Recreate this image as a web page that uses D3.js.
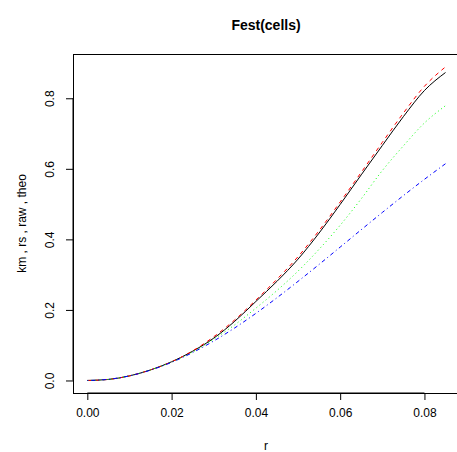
<!DOCTYPE html>
<html>
<head>
<meta charset="utf-8">
<script src="https://cdn.jsdelivr.net/npm/d3@7"></script>
<style>
  html, body { margin: 0; padding: 0; background: #fff; }
  svg { display: block; font-family: "Liberation Sans", Arial, Helvetica, sans-serif; }
</style>
</head>
<body>
<svg id="chart" width="457" height="452"></svg>
<script>
// ---- data ----
const rValues  = [0, 0.005, 0.010, 0.015, 0.020, 0.025, 0.030, 0.035, 0.040, 0.045, 0.050, 0.055, 0.060, 0.065, 0.070, 0.075, 0.080, 0.085];
const kmValues = [0, 0.003, 0.013, 0.030, 0.053, 0.083, 0.120, 0.168, 0.224, 0.281, 0.344, 0.418, 0.499, 0.583, 0.666, 0.748, 0.822, 0.873];
const rsValues = [0, 0.003, 0.013, 0.030, 0.053, 0.084, 0.124, 0.172, 0.228, 0.287, 0.351, 0.425, 0.506, 0.590, 0.675, 0.758, 0.834, 0.889];
const rawValues = [0, 0.003, 0.013, 0.030, 0.052, 0.081, 0.117, 0.158, 0.205, 0.255, 0.310, 0.372, 0.440, 0.515, 0.595, 0.665, 0.730, 0.779];
const theoValues = [0, 0.0033, 0.0131, 0.0293, 0.0514, 0.0792, 0.1120, 0.1492, 0.1903, 0.2345, 0.2810, 0.3290, 0.3781, 0.4274, 0.4762, 0.5240, 0.5702, 0.6145];
const xTicks = [0, 0.02, 0.04, 0.06, 0.08];
const yTicks = [0, 0.2, 0.4, 0.6, 0.8];
const seriesNames = ["km", "rs", "raw", "theo"];
const seriesColors = ["#000000", "#FF0000", "#00FF00", "#0000FF"];
const seriesDash = [null, "4,4", "1,3", "1,3,4,3"];
const titleText = "Fest(cells)";
const xLabel = "r";
const yLabel = "km , rs , raw , theo";

// ---- layout ----
const svg = d3.select("#chart");
const plotLeft = 73, plotRight = 459, plotTop = 54, plotBottom = 393;

const x = d3.scaleLinear().domain([-0.0034, 0.0882]).range([plotLeft, plotRight]);
const y = d3.scaleLinear().domain([-0.0355, 0.9255]).range([plotBottom, plotTop]);

// box
svg.append("rect")
  .attr("x", plotLeft).attr("y", plotTop)
  .attr("width", plotRight - plotLeft).attr("height", plotBottom - plotTop)
  .attr("fill", "none").attr("stroke", "#000").attr("stroke-width", 1)
  .attr("shape-rendering", "crispEdges");

// axes
const xAxis = d3.axisBottom(x).tickValues(xTicks).tickFormat(d3.format(".2f")).tickSizeOuter(0).tickSize(7).tickPadding(8);
const gx = svg.append("g").attr("transform", `translate(0,${plotBottom})`).call(xAxis);
gx.select(".domain").attr("d", `M${x(xTicks[0])},0H${x(xTicks[xTicks.length-1])}`);
gx.selectAll("text").attr("font-size", 12).attr("font-family", "Liberation Sans, Arial, sans-serif").attr("fill", "#000");

const yAxis = d3.axisLeft(y).tickValues(yTicks).tickFormat(d3.format(".1f")).tickSizeOuter(0).tickSize(7);
const gy = svg.append("g").attr("transform", `translate(${plotLeft},0)`).call(yAxis);
gy.select(".domain").attr("d", `M0,${y(yTicks[0])}V${y(yTicks[yTicks.length-1])}`);
gy.selectAll(".tick text")
  .attr("font-size", 12).attr("font-family", "Liberation Sans, Arial, sans-serif").attr("fill", "#000")
  .attr("x", null).attr("dy", null)
  .attr("text-anchor", "middle")
  .attr("transform", "translate(-19,0) rotate(-90)");
svg.selectAll(".tick line").attr("stroke", "#000");

// lines
const seriesData = [kmValues, rsValues, rawValues, theoValues];
const line = d3.line()
  .x((d, i) => x(rValues[i]))
  .y(d => y(d))
  .curve(d3.curveMonotoneX);

seriesData.forEach((vals, k) => {
  svg.append("path")
    .datum(vals)
    .attr("class", "series-" + seriesNames[k])
    .attr("d", line)
    .attr("fill", "none")
    .attr("stroke", seriesColors[k])
    .attr("stroke-width", 1)
    .attr("stroke-dasharray", seriesDash[k]);
});

// title and labels
svg.append("text")
  .attr("x", (plotLeft + plotRight) / 2).attr("y", 30)
  .attr("text-anchor", "middle")
  .attr("font-size", 14).attr("font-weight", "bold")
  .text(titleText);

svg.append("text")
  .attr("x", (plotLeft + plotRight) / 2).attr("y", 450)
  .attr("text-anchor", "middle")
  .attr("font-size", 12)
  .text(xLabel);

svg.append("text")
  .attr("transform", `translate(26,${(plotTop + plotBottom) / 2}) rotate(-90)`)
  .attr("text-anchor", "middle")
  .attr("font-size", 12)
  .text(yLabel);
</script>
</body>
</html>
